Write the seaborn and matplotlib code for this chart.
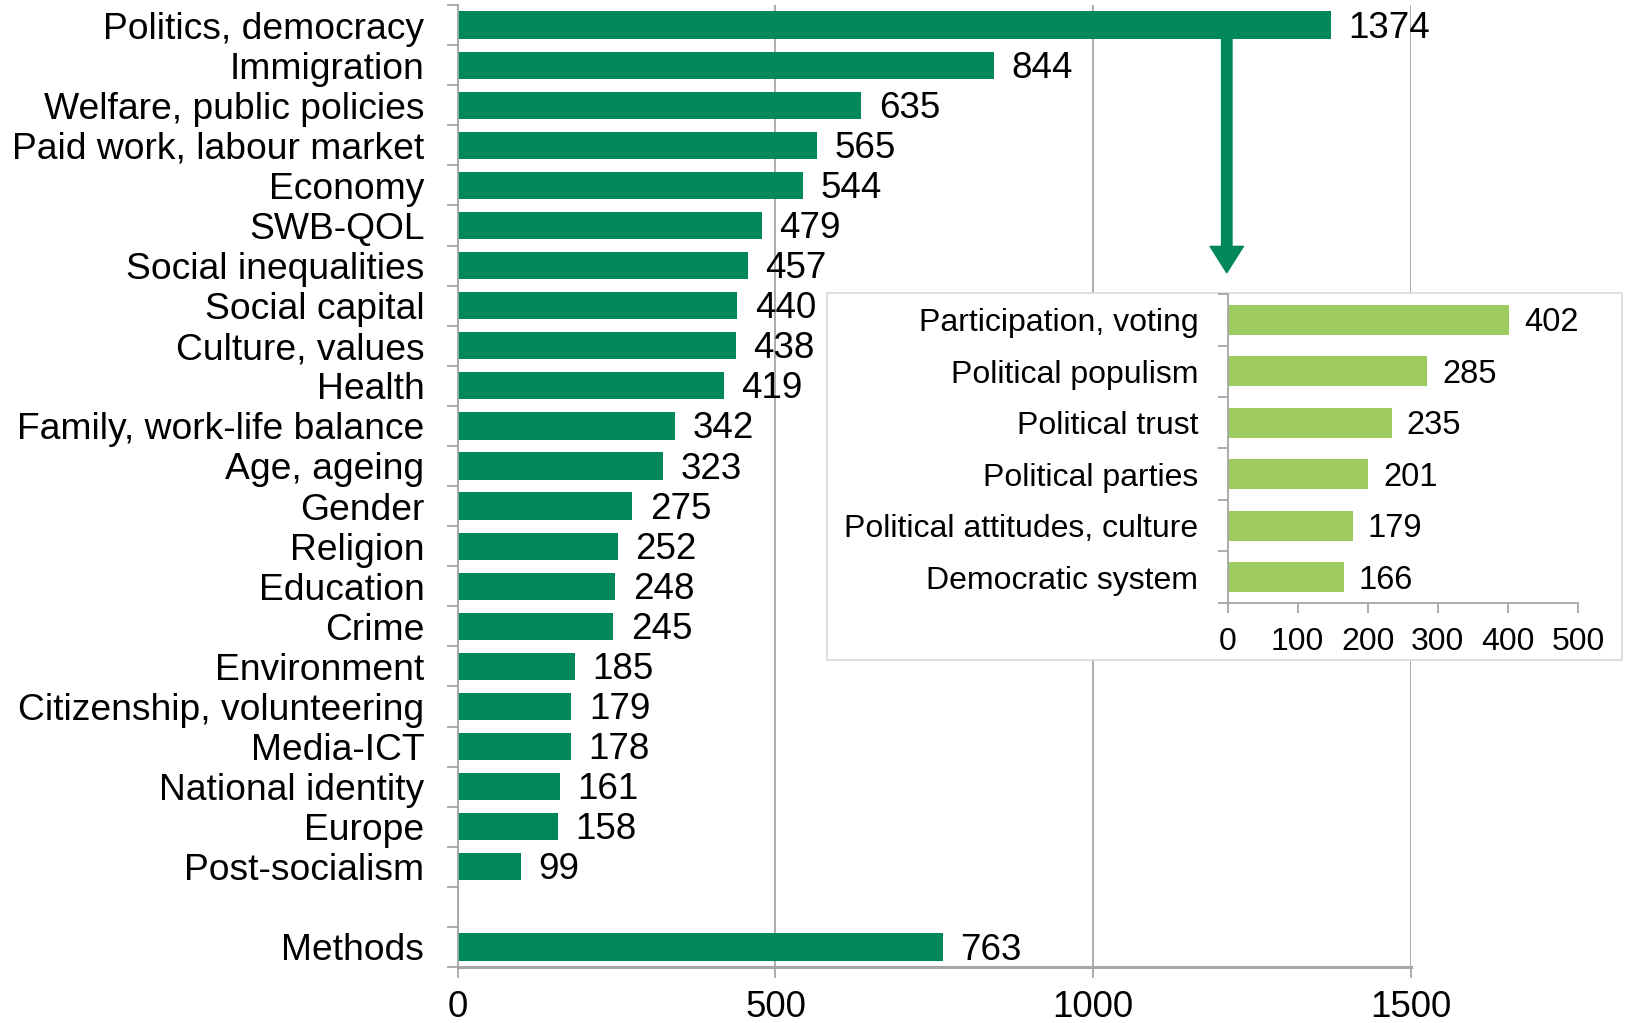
import numpy as np
import pandas as pd
import matplotlib
matplotlib.use("Agg")
import matplotlib.pyplot as plt
from matplotlib.patches import Rectangle, FancyArrowPatch
import seaborn as sns

# Number of publications per topic
topics = ["Politics, democracy", "Immigration", "Welfare, public policies",
          "Paid work, labour market", "Economy", "SWB-QOL", "Social inequalities",
          "Social capital", "Culture, values", "Health", "Family, work-life balance",
          "Age, ageing", "Gender", "Religion", "Education", "Crime", "Environment",
          "Citizenship, volunteering", "Media-ICT", "National identity", "Europe",
          "Post-socialism", "Methods"]
counts = [1374, 844, 635, 565, 544, 479, 457, 440, 438, 419, 342, 323, 275, 252,
          248, 245, 185, 179, 178, 161, 158, 99, 763]

# Breakdown of "Politics, democracy"
politics_sub = ["Participation, voting", "Political populism", "Political trust",
                "Political parties", "Political attitudes, culture", "Democratic system"]
politics_counts = [402, 285, 235, 201, 179, 166]

main_ticks = [0, 500, 1000, 1500]
sub_ticks = [0, 100, 200, 300, 400, 500]

DARK_GREEN = "#00875A"
LIGHT_GREEN = "#9ECB5F"
GRID = "#a6a6a6"

sns.set_theme(style="white")
plt.rcParams["font.family"] = ["Liberation Sans", "DejaVu Sans"]

main_df = pd.DataFrame({"topic": topics, "n": counts})
sub_df = pd.DataFrame({"topic": politics_sub, "n": politics_counts})
order = topics[:-1] + [" "] + topics[-1:]

fig = plt.figure(figsize=(16.27, 10.23), dpi=100)

# Main chart
ax = fig.add_axes([0.2813, 0.0547, 0.8673 - 0.2813, 0.9951 - 0.0547])
sns.barplot(data=main_df, x="n", y="topic", order=order, color=DARK_GREEN,
            saturation=1, width=0.68, ax=ax, zorder=2)
ax.set_xlim(0, 1500)
ax.set_ylim(len(order) - 0.5, -0.5)
ax.set_xlabel("")
ax.set_ylabel("")
ax.set_xticks(main_ticks)
ax.set_xticklabels([str(t) for t in main_ticks])
ax.set_yticks(np.arange(-0.5, len(order), 1), minor=True)
ax.xaxis.grid(True, color=GRID, linewidth=1.3, zorder=0)
ax.set_axisbelow(True)
for s in ["top", "right"]:
    ax.spines[s].set_visible(False)
ax.spines["left"].set_color(GRID)
ax.spines["left"].set_linewidth(1.3)
ax.spines["bottom"].set_color(GRID)
ax.spines["bottom"].set_linewidth(2.2)
ax.tick_params(axis="y", which="major", length=0, pad=24, labelsize=26.8,
               labelcolor="black")
ax.tick_params(axis="y", which="minor", left=True, length=8, width=1.3, color=GRID)
ax.tick_params(axis="x", which="major", bottom=True, length=8, width=1.3,
               color=GRID, pad=8.5, labelsize=26.5, labelcolor="black")
for bar in ax.patches:
    bar.set_edgecolor("none")
main_labels = ax.bar_label(ax.containers[0], labels=[str(v) for v in counts],
                           padding=12.5, fontsize=26.5, color="black", clip_on=False)
for t in main_labels:
    t.xyann = (12.5, -2.2)

# Arrow from the politics bar down to its breakdown
arrow = FancyArrowPatch((1210, 0.2), (1210, 6.18),
                        arrowstyle="simple,tail_width=7.5,head_width=24,head_length=19",
                        mutation_scale=1, color=DARK_GREEN, shrinkA=0, shrinkB=0,
                        zorder=5, clip_on=False)
ax.add_patch(arrow)

# Panel behind the breakdown chart
panel = Rectangle((0.5083, 0.3548), 0.9969 - 0.5083, 0.7136 - 0.3548,
                  transform=fig.transFigure, facecolor="white",
                  edgecolor="#d9d9d9", linewidth=1.2, zorder=1)
fig.add_artist(panel)

# Breakdown chart
ins = fig.add_axes([0.7545, 0.4106, 0.9699 - 0.7545, 0.7126 - 0.4106])
ins.set_zorder(2)
sns.barplot(data=sub_df, x="n", y="topic", color=LIGHT_GREEN, saturation=1,
            width=0.58, ax=ins)
ins.set_xlim(0, 500)
ins.set_ylim(len(politics_sub) - 0.5, -0.5)
ins.set_xlabel("")
ins.set_ylabel("")
ins.set_xticks(sub_ticks)
ins.set_xticklabels([str(t) for t in sub_ticks])
ins.set_yticks(np.arange(-0.5, len(politics_sub), 1), minor=True)
for s in ["top", "right"]:
    ins.spines[s].set_visible(False)
for s in ["left", "bottom"]:
    ins.spines[s].set_color(GRID)
    ins.spines[s].set_linewidth(1.3)
ins.tick_params(axis="y", which="major", length=0, pad=21, labelsize=23,
                labelcolor="black")
ins.tick_params(axis="y", which="minor", left=True, length=7, width=1.3, color=GRID)
ins.tick_params(axis="x", which="major", bottom=True, length=7, width=1.3,
                color=GRID, pad=10, labelsize=23, labelcolor="black")
for bar in ins.patches:
    bar.set_edgecolor("none")
sub_labels = ins.bar_label(ins.containers[0], labels=[str(v) for v in politics_counts],
                           padding=10.5, fontsize=23.5, color="black", clip_on=False)
for t in sub_labels:
    t.xyann = (10.5, -2.2)

fig.savefig("out.png", dpi=100, facecolor="white")
